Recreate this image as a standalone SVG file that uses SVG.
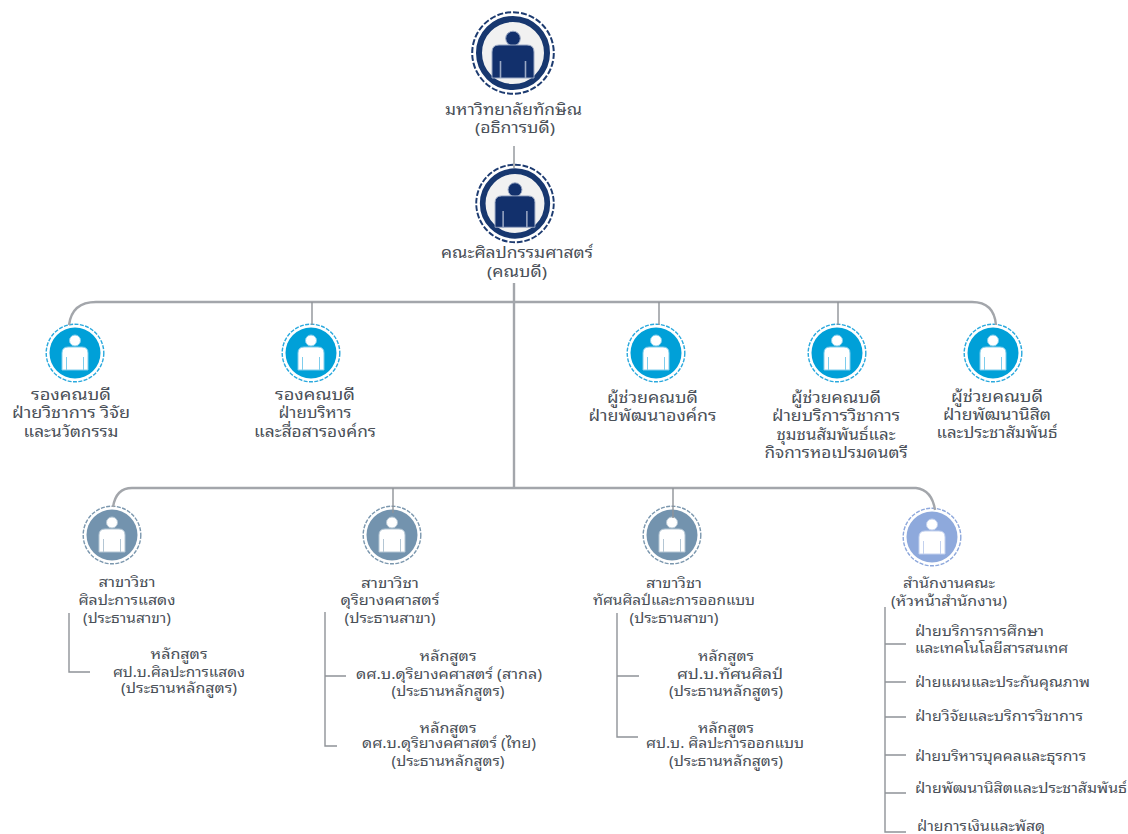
<svg xmlns="http://www.w3.org/2000/svg" width="1128" height="834" viewBox="0 0 1128 834">
<style>
text{font-family:"Noto Sans Thai Looped","Noto Sans Thai","Noto Sans","DejaVu Sans","Liberation Sans",sans-serif;fill:#4a5058;font-size:15px;text-anchor:middle;lengthAdjust:spacingAndGlyphs}
.s{font-size:14px}
.l{text-anchor:start;font-size:14px}
.c{fill:none;stroke:#a3a6ab;stroke-width:2.4}
.t{fill:none;stroke:#8f9398;stroke-width:1.4}
.d{fill:none;stroke-width:1.4;stroke-dasharray:4 1.4}
</style>
<defs>
<g id="p"><circle cx="0" cy="-12.500" r="5.500"/><path d="M-13 17V0Q-13-6-7-6H7Q13-6 13 0V17Z"/><path d="M-8.500 4V17M8.500 4V17" stroke-width="1"/></g>
<g id="pn"><circle cx="0" cy="-14.500" r="7.300"/><path d="M-21 25V-1Q-21-8-14-8H14Q21-8 21-1V25Z"/><path d="M-12.500 8V25M12.500 8V25" stroke-width="1.600"/></g>
<g id="nb"><circle r="28.800" class="d" stroke="#2aa9de"/><circle r="25.500" fill="#00a0d8"/><use href="#p" fill="#fff" stroke="#7fcdec"/></g>
<g id="ns"><circle r="28.800" class="d" stroke="#7b97ae"/><circle r="25.500" fill="#7393ae"/><use href="#p" fill="#fff" stroke="#b4c6d4"/></g>
<g id="nl"><circle r="28.800" class="d" stroke="#8ea8dc"/><circle r="25.500" fill="#8ea9dc"/><use href="#p" fill="#fff" stroke="#c3d1ee"/></g>
<g id="nn"><circle r="40.800" class="d" stroke="#1d3b70" style="stroke-width:2;stroke-dasharray:6 2"/><circle r="34" fill="#f1f1f1" stroke="#17376f" stroke-width="6"/><use href="#pn" fill="#12306c" stroke="#9aa8c4"/></g>
</defs>
<g id="n-univ"><use href="#nn" transform="translate(513 53)"/><text x="513.500" y="115" textLength="137" lengthAdjust="spacingAndGlyphs">มหาวิทยาลัยทักษิณ</text><text x="515" y="133" textLength="80" lengthAdjust="spacingAndGlyphs">(อธิการบดี)</text></g>
<g id="n-faculty"><use href="#nn" transform="translate(515 203.500) scale(.95)"/><text x="517" y="258" textLength="152" lengthAdjust="spacingAndGlyphs">คณะศิลปกรรมศาสตร์</text><text x="517" y="277" textLength="60" lengthAdjust="spacingAndGlyphs">(คณบดี)</text></g>
<g id="n-vd1"><use href="#nb" transform="translate(75 353)"/><text x="71" y="400" textLength="80" lengthAdjust="spacingAndGlyphs">รองคณบดี</text><text x="71" y="418" textLength="118" lengthAdjust="spacingAndGlyphs">ฝ่ายวิชาการ วิจัย</text><text x="71" y="437" textLength="95" lengthAdjust="spacingAndGlyphs">และนวัตกรรม</text></g>
<g id="n-vd2"><use href="#nb" transform="translate(311 353)"/><text x="315" y="400" textLength="80" lengthAdjust="spacingAndGlyphs">รองคณบดี</text><text x="315" y="418" textLength="73" lengthAdjust="spacingAndGlyphs">ฝ่ายบริหาร</text><text x="315" y="437" textLength="122" lengthAdjust="spacingAndGlyphs">และสื่อสารองค์กร</text></g>
<g id="n-ad1"><use href="#nb" transform="translate(656 353)"/><text x="652.500" y="403" textLength="91" lengthAdjust="spacingAndGlyphs">ผู้ช่วยคณบดี</text><text x="652.500" y="421" textLength="128" lengthAdjust="spacingAndGlyphs">ฝ่ายพัฒนาองค์กร</text></g>
<g id="n-ad2"><use href="#nb" transform="translate(837 353)"/><text x="836" y="403" textLength="90" lengthAdjust="spacingAndGlyphs">ผู้ช่วยคณบดี</text><text x="836" y="421" textLength="128" lengthAdjust="spacingAndGlyphs">ฝ่ายบริการวิชาการ</text><text x="836" y="440" textLength="119" lengthAdjust="spacingAndGlyphs">ชุมชนสัมพันธ์และ</text><text x="836" y="458" textLength="143" lengthAdjust="spacingAndGlyphs">กิจการหอเปรมดนตรี</text></g>
<g id="n-ad3"><use href="#nb" transform="translate(993 353)"/><text x="997" y="402" textLength="92" lengthAdjust="spacingAndGlyphs">ผู้ช่วยคณบดี</text><text x="997" y="420" textLength="108" lengthAdjust="spacingAndGlyphs">ฝ่ายพัฒนานิสิต</text><text x="997" y="438" textLength="121" lengthAdjust="spacingAndGlyphs">และประชาสัมพันธ์</text></g>
<g id="n-dept1"><use href="#ns" transform="translate(112 535)"/><text class="s" x="127" y="587" textLength="57" lengthAdjust="spacingAndGlyphs">สาขาวิชา</text><text class="s" x="127" y="605" textLength="97" lengthAdjust="spacingAndGlyphs">ศิลปะการแสดง</text><text class="s" x="127" y="623" textLength="88" lengthAdjust="spacingAndGlyphs">(ประธานสาขา)</text></g>
<g id="n-prog1"><text class="s" x="179" y="659" textLength="57" lengthAdjust="spacingAndGlyphs">หลักสูตร</text><text class="s" x="179" y="677" textLength="132" lengthAdjust="spacingAndGlyphs">ศป.บ.ศิลปะการแสดง</text><text class="s" x="179" y="693" textLength="116" lengthAdjust="spacingAndGlyphs">(ประธานหลักสูตร)</text></g>
<g id="n-dept2"><use href="#ns" transform="translate(392 535)"/><text class="s" x="390" y="588" textLength="58" lengthAdjust="spacingAndGlyphs">สาขาวิชา</text><text class="s" x="390" y="605" textLength="99" lengthAdjust="spacingAndGlyphs">ดุริยางคศาสตร์</text><text class="s" x="390" y="623" textLength="91" lengthAdjust="spacingAndGlyphs">(ประธานสาขา)</text></g>
<g id="n-prog2"><text class="s" x="448" y="661" textLength="57" lengthAdjust="spacingAndGlyphs">หลักสูตร</text><text class="s" x="449" y="679" textLength="186" lengthAdjust="spacingAndGlyphs">ดศ.บ.ดุริยางคศาสตร์ (สากล)</text><text class="s" x="448" y="696" textLength="113" lengthAdjust="spacingAndGlyphs">(ประธานหลักสูตร)</text></g>
<g id="n-prog3"><text class="s" x="448" y="733" textLength="57" lengthAdjust="spacingAndGlyphs">หลักสูตร</text><text class="s" x="449" y="748" textLength="174" lengthAdjust="spacingAndGlyphs">ดศ.บ.ดุริยางคศาสตร์ (ไทย)</text><text class="s" x="448" y="766" textLength="113" lengthAdjust="spacingAndGlyphs">(ประธานหลักสูตร)</text></g>
<g id="n-dept3"><use href="#ns" transform="translate(672 535)"/><text class="s" x="674" y="588" textLength="56" lengthAdjust="spacingAndGlyphs">สาขาวิชา</text><text class="s" x="674" y="605" textLength="162" lengthAdjust="spacingAndGlyphs">ทัศนศิลป์และการออกแบบ</text><text class="s" x="674" y="623" textLength="89" lengthAdjust="spacingAndGlyphs">(ประธานสาขา)</text></g>
<g id="n-prog4"><text class="s" x="726" y="661" textLength="56" lengthAdjust="spacingAndGlyphs">หลักสูตร</text><text class="s" x="730" y="679" textLength="106" lengthAdjust="spacingAndGlyphs">ศป.บ.ทัศนศิลป์</text><text class="s" x="726" y="696" textLength="114" lengthAdjust="spacingAndGlyphs">(ประธานหลักสูตร)</text></g>
<g id="n-prog5"><text class="s" x="726" y="733" textLength="56" lengthAdjust="spacingAndGlyphs">หลักสูตร</text><text class="s" x="725" y="748" textLength="158" lengthAdjust="spacingAndGlyphs">ศป.บ. ศิลปะการออกแบบ</text><text class="s" x="726" y="766" textLength="114" lengthAdjust="spacingAndGlyphs">(ประธานหลักสูตร)</text></g>
<g id="n-office"><use href="#nl" transform="translate(932 537)"/><text class="s" x="949" y="588" textLength="92" lengthAdjust="spacingAndGlyphs">สำนักงานคณะ</text><text class="s" x="949" y="606" textLength="116" lengthAdjust="spacingAndGlyphs">(หัวหน้าสำนักงาน)</text></g>
<g id="n-o1"><text class="l" x="915" y="636" textLength="129" lengthAdjust="spacingAndGlyphs">ฝ่ายบริการการศึกษา</text><text class="l" x="915" y="653" textLength="153" lengthAdjust="spacingAndGlyphs">และเทคโนโลยีสารสนเทศ</text></g>
<g id="n-o2"><text class="l" x="915" y="687" textLength="175" lengthAdjust="spacingAndGlyphs">ฝ่ายแผนและประกันคุณภาพ</text></g>
<g id="n-o3"><text class="l" x="915" y="721" textLength="168" lengthAdjust="spacingAndGlyphs">ฝ่ายวิจัยและบริการวิชาการ</text></g>
<g id="n-o4"><text class="l" x="915" y="761" textLength="171" lengthAdjust="spacingAndGlyphs">ฝ่ายบริหารบุคคลและธุรการ</text></g>
<g id="n-o5"><text class="l" x="915" y="793" textLength="212" lengthAdjust="spacingAndGlyphs">ฝ่ายพัฒนานิสิตและประชาสัมพันธ์</text></g>
<g id="n-o6"><text class="l" x="917" y="831" textLength="128" lengthAdjust="spacingAndGlyphs">ฝ่ายการเงินและพัสดุ</text></g>
<g id="connectors">
<path class="t" d="M514 146V168"/>
<path class="c" d="M514 283V488"/>
<path class="c" d="M69 325Q72 302 96 302H972Q994 302 996 325"/>
<path class="t" d="M312 302V325M659 302V325M838 302V325"/>
<path class="c" d="M113 507Q116 488 132 488H916Q932 490 935 510"/>
<path class="t" d="M393 488V513M673 488V518"/>
<path class="t" d="M69 613V672H90"/>
<path class="t" d="M325 612V746H337M325 676H346"/>
<path class="t" d="M617 613V737H638M617 676H639"/>
<path class="t" d="M885 607V832H906M885 644H906M885 682H906M885 717H906M885 755H906M885 793H906"/>
</g>
</svg>
